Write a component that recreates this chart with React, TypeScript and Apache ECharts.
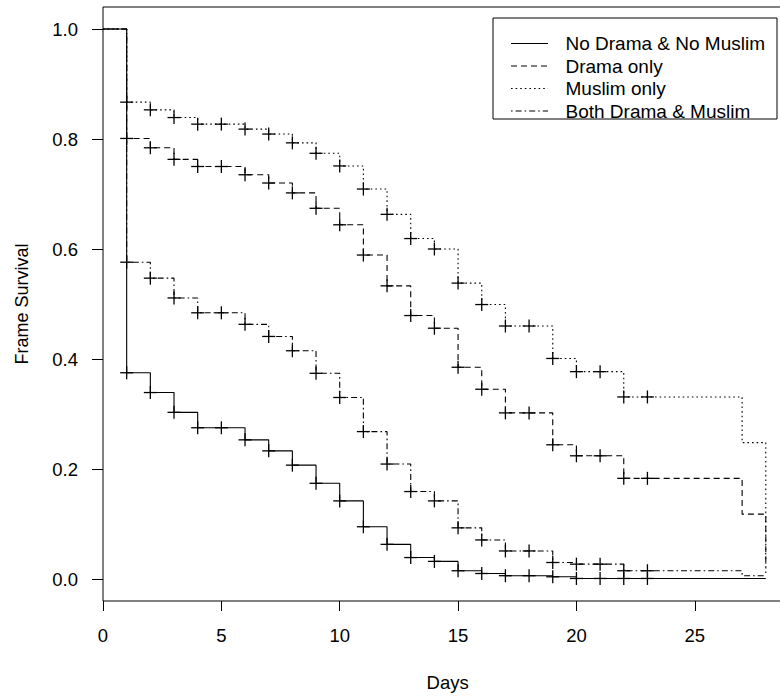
import React, { useEffect, useRef } from "react";
import * as echarts from "echarts";

const days = [0, 1, 2, 3, 4, 5, 6, 7, 8, 9, 10, 11, 12, 13, 14, 15, 16, 17, 18, 19, 20, 21, 22, 23, 24, 25, 26, 27, 28];
const markDays = [1, 2, 3, 4, 5, 6, 7, 8, 9, 10, 11, 12, 13, 14, 15, 16, 17, 18, 19, 20, 21, 22, 23];

const noDramaNoMuslim = [1, 0.375, 0.339, 0.303, 0.275, 0.275, 0.253, 0.233, 0.207, 0.174, 0.142, 0.095, 0.063, 0.039, 0.032, 0.015, 0.010, 0.006, 0.006, 0.004, 0.001, 0.001, 0.001, 0.001, 0.001, 0.001, 0.001, 0.001, 0.001];
const dramaOnly = [1, 0.801, 0.784, 0.763, 0.750, 0.750, 0.735, 0.720, 0.702, 0.674, 0.644, 0.589, 0.533, 0.479, 0.456, 0.385, 0.345, 0.302, 0.302, 0.244, 0.224, 0.224, 0.183, 0.183, 0.183, 0.183, 0.183, 0.118, 0.022];
const muslimOnly = [1, 0.867, 0.853, 0.839, 0.827, 0.827, 0.818, 0.809, 0.793, 0.774, 0.751, 0.709, 0.663, 0.619, 0.600, 0.538, 0.499, 0.460, 0.460, 0.401, 0.377, 0.377, 0.331, 0.331, 0.331, 0.331, 0.331, 0.248, 0.008];
const bothDramaMuslim = [1, 0.576, 0.547, 0.511, 0.484, 0.484, 0.463, 0.441, 0.415, 0.374, 0.330, 0.268, 0.209, 0.159, 0.142, 0.093, 0.071, 0.051, 0.051, 0.030, 0.027, 0.027, 0.015, 0.015, 0.015, 0.015, 0.015, 0.006, 0.006];

const seriesNames = ["No Drama & No Muslim", "Drama only", "Muslim only", "Both Drama & Muslim"];
const yTicks = [0, 0.2, 0.4, 0.6, 0.8, 1.0];
const xTicks = [0, 5, 10, 15, 20, 25];

const FONT = "'Liberation Sans', Arial, sans-serif";
const dashes: any[] = ["solid", [6, 4], [1.6, 3], [1.6, 3, 6, 3]];

export default function App() {
  const ref = useRef<HTMLDivElement>(null);
  useEffect(() => {
    if (!ref.current) return;
    const chart = echarts.init(ref.current, null, { renderer: "svg" });
    const curves = [noDramaNoMuslim, dramaOnly, muslimOnly, bothDramaMuslim];
    const lineSeries = curves.map((arr, k) => ({
      type: "line",
      name: seriesNames[k],
      step: "end",
      data: days.map((d, i) => [d, arr[i]]),
      showSymbol: false,
      symbol: "none",
      z: 10 - k,
      lineStyle: { color: "#000", width: 1.1, type: dashes[k] },
    }));
    const markSeries = curves.map((arr, k) => ({
      type: "custom",
      name: seriesNames[k] + " censored",
      data: markDays.map((d) => [d, arr[days.indexOf(d)]]),
      z: 20,
      renderItem: (params: any, api: any) => {
        const p = api.coord([api.value(0), api.value(1)]);
        const st = { stroke: "#000", lineWidth: 1.3 };
        return {
          type: "group",
          children: [
            { type: "line", shape: { x1: p[0] - 6.5, y1: p[1], x2: p[0] + 6.5, y2: p[1] }, style: st },
            { type: "line", shape: { x1: p[0], y1: p[1] - 6.5, x2: p[0], y2: p[1] + 6.5 }, style: st },
          ],
        };
      },
    }));

    const legendRows = [43.5, 66, 88.5, 111];
    const legendChildren: any[] = [
      { type: "rect", shape: { x: 493, y: 18, width: 284, height: 101 }, style: { fill: "#fff", stroke: "#000", lineWidth: 1 } },
    ];
    seriesNames.forEach((n, k) => {
      legendChildren.push({
        type: "line",
        shape: { x1: 511, y1: legendRows[k], x2: 548, y2: legendRows[k] },
        style: { stroke: "#000", lineWidth: 1.1, lineDash: k === 0 ? null : dashes[k] },
      });
      legendChildren.push({
        type: "text",
        x: 565.5,
        y: legendRows[k],
        style: { text: n, fill: "#000", font: `19px ${FONT}`, textVerticalAlign: "middle", textAlign: "left" },
      });
    });

    chart.setOption({
      animation: false,
      backgroundColor: "#fff",
      grid: {
        left: 103,
        top: 7,
        width: 689.3,
        height: 594,
        show: true,
        borderColor: "#000",
        borderWidth: 1,
        backgroundColor: "transparent",
        containLabel: false,
        outerBoundsMode: "none",
      },
      xAxis: {
        type: "value",
        min: 0,
        max: 29.12,
        name: "Days",
        nameLocation: "middle",
        nameGap: 72,
        nameTextStyle: { color: "#000", fontSize: 18.5, fontFamily: FONT },
        axisLine: { show: false, onZero: false },
        axisTick: { show: true, length: 10, customValues: xTicks, lineStyle: { color: "#000", width: 1 } },
        axisLabel: { customValues: xTicks, color: "#000", fontSize: 18.5, fontFamily: FONT, margin: 25 },
        splitLine: { show: false },
      },
      yAxis: {
        type: "value",
        min: -0.04,
        max: 1.04,
        name: "Frame Survival",
        nameLocation: "middle",
        nameGap: 72,
        nameRotate: 90,
        nameTextStyle: { color: "#000", fontSize: 18, fontFamily: FONT },
        axisLine: { show: false, onZero: false },
        axisTick: { show: true, length: 11, customValues: yTicks, lineStyle: { color: "#000", width: 1 } },
        axisLabel: {
          customValues: yTicks,
          color: "#000",
          fontSize: 18.5,
          fontFamily: FONT,
          margin: 25,
          formatter: (v: number) => v.toFixed(1),
        },
        splitLine: { show: false },
      },
      series: [...lineSeries, ...markSeries],
      graphic: [{ type: "group", children: legendChildren, z: 100 }],
    });
    return () => chart.dispose();
  }, []);
  return <div ref={ref} style={{ position: "fixed", left: 0, top: 0, width: 780, height: 696 }} />;
}
